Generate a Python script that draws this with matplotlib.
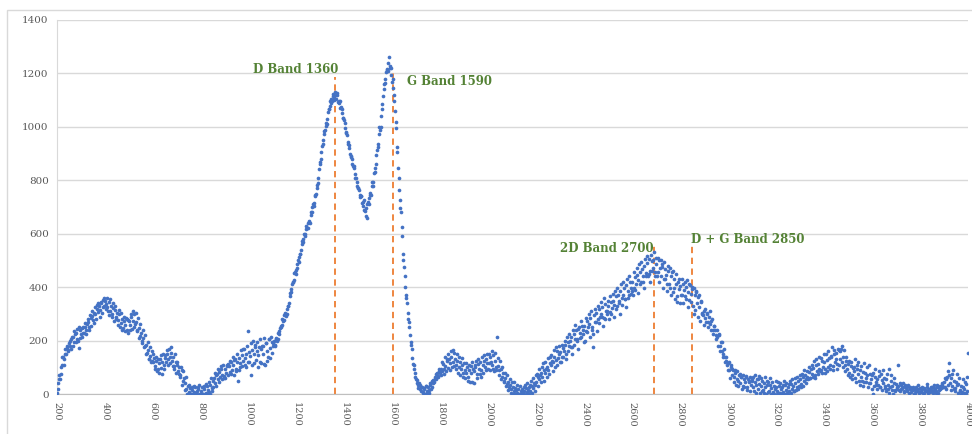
import numpy as np
import matplotlib
matplotlib.use("Agg")
import matplotlib.pyplot as plt
from matplotlib.patches import Rectangle

# Raman intensity: one value every 5 cm-1 from 200 to 4000 ...
shift_start = 200
shift_step = 5
intensity_rows = [
    [5, 42, 58, 100, 110, 138, 130, 148, 172, 160, 192, 178, 206, 212, 196, 224, 230, 205, 172, 238],  # 200
    [224, 246, 228, 252, 240, 262, 268, 250, 285, 292, 276, 305, 298, 320, 308, 330, 316, 340, 352, 330],  # 300
    [350, 338, 325, 345, 312, 330, 300, 322, 316, 290, 304, 278, 298, 265, 282, 248, 275, 260, 240, 278],  # 400
    [275, 258, 290, 272, 298, 262, 270, 238, 248, 218, 228, 200, 210, 178, 182, 152, 165, 130, 142, 122],  # 500
    [120, 135, 105, 122, 92, 115, 130, 98, 120, 108, 135, 118, 150, 132, 140, 155, 125, 138, 105, 120],  # 600
    [108, 85, 100, 70, 90, 48, 60, 42, 20, 30, 8, 22, 0, 15, 6, 25, 2, 10, 18, 0],  # 700
    [12, 28, 0, 20, 5, 30, 15, 8, 35, 22, 48, 60, 40, 72, 55, 82, 65, 95, 72, 68],  # 800
    [95, 78, 105, 112, 82, 120, 90, 110, 128, 95, 118, 48, 135, 115, 145, 125, 170, 135, 150, 235],  # 900
    [158, 142, 72, 165, 150, 175, 128, 160, 145, 118, 170, 180, 150, 112, 190, 160, 140, 205, 172, 195],  # 1000
    [178, 198, 180, 208, 205, 235, 248, 250, 282, 276, 305, 292, 318, 330, 368, 380, 410, 418, 452, 450],  # 1100
    [470, 500, 512, 525, 562, 570, 600, 598, 628, 622, 648, 640, 682, 700, 705, 742, 748, 782, 810, 862],  # 1200
    [878, 928, 950, 985, 1002, 1012, 1055, 1068, 1098, 1090, 1115, 1100, 1132, 1105, 1120, 1088, 1095, 1075, 1050, 1035],  # 1300
    [1015, 978, 968, 935, 922, 888, 880, 852, 845, 808, 795, 770, 765, 738, 742, 705, 728, 685, 668, 712],  # 1400
    [710, 752, 745, 795, 780, 832, 860, 915, 935, 998, 1000, 1068, 1115, 1160, 1178, 1215, 1210, 1262, 1222, 1195],  # 1500
    [1180, 1120, 1060, 1020, 905, 810, 725, 680, 590, 500, 440, 372, 340, 280, 252, 195, 170, 112, 95, 62],  # 1600
    [52, 35, 40, 18, 28, 8, 22, 0, 30, 12, 5, 35, 20, 48, 40, 65, 55, 80, 68, 92],  # 1700
    [95, 85, 112, 92, 105, 125, 98, 130, 115, 140, 120, 152, 130, 110, 125, 100, 118, 92, 108, 80],  # 1800
    [90, 78, 100, 65, 88, 80, 45, 95, 85, 102, 75, 112, 95, 120, 88, 110, 125, 102, 132, 115],  # 1900
    [115, 138, 120, 108, 145, 125, 100, 212, 105, 88, 95, 65, 78, 50, 60, 38, 45, 25, 35, 18],  # 2000
    [28, 10, 22, 15, 5, 20, 0, 12, 18, 3, 10, 22, 8, 15, 25, 12, 30, 22, 40, 35],  # 2100
    [45, 62, 55, 70, 80, 65, 90, 78, 95, 100, 88, 115, 108, 125, 118, 140, 128, 160, 135, 150],  # 2200
    [158, 140, 172, 160, 185, 150, 195, 178, 200, 215, 175, 225, 205, 238, 198, 245, 230, 212, 255, 240],  # 2300
    [255, 235, 272, 250, 262, 285, 240, 175, 295, 270, 305, 282, 318, 290, 300, 325, 285, 338, 310, 300],  # 2400
    [330, 308, 345, 322, 350, 335, 365, 330, 372, 348, 385, 360, 370, 395, 355, 408, 385, 372, 420, 395],  # 2500
    [420, 395, 438, 410, 445, 425, 455, 420, 468, 440, 478, 452, 490, 440, 505, 462, 498, 470, 530, 455],  # 2600
    [488, 455, 500, 472, 440, 485, 430, 468, 445, 410, 462, 398, 440, 455, 380, 432, 410, 365, 420, 392],  # 2700
    [405, 372, 412, 388, 365, 400, 380, 352, 408, 375, 392, 300, 370, 385, 340, 362, 325, 348, 305, 295],  # 2800
    [312, 285, 305, 268, 290, 262, 275, 240, 255, 238, 222, 212, 225, 178, 195, 160, 150, 138, 125, 108],  # 2900
    [115, 90, 102, 70, 88, 62, 80, 55, 48, 72, 40, 65, 30, 58, 45, 68, 25, 50, 62, 32],  # 3000
    [50, 28, 45, 35, 58, 20, 38, 30, 48, 15, 40, 25, 32, 45, 12, 35, 22, 8, 30, 18],  # 3100
    [25, 10, 30, 5, 18, 28, 8, 35, 15, 3, 25, 12, 38, 20, 30, 10, 42, 25, 48, 30],  # 3200
    [55, 38, 62, 48, 72, 55, 65, 82, 60, 92, 75, 98, 70, 108, 85, 112, 95, 88, 122, 100],  # 3300
    [118, 95, 128, 100, 135, 110, 142, 105, 150, 120, 155, 112, 165, 130, 170, 178, 140, 110, 125, 95],  # 3400
    [112, 80, 105, 70, 98, 85, 60, 92, 75, 50, 88, 65, 82, 45, 78, 60, 70, 40, 75, 55],  # 3500
    [70, 0, 65, 45, 58, 35, 68, 28, 52, 40, 60, 22, 55, 35, 95, 25, 48, 30, 40, 15],  # 3600
    [38, 18, 110, 12, 32, 22, 42, 8, 30, 15, 35, 5, 28, 18, 25, 0, 20, 12, 32, 8],  # 3700
    [22, 8, 25, 3, 15, 12, 38, 5, 20, 14, 28, 2, 22, 10, 32, 5, 26, 18, 40, 25],  # 3800
    [45, 28, 55, 35, 116, 42, 60, 30, 50, 22, 45, 35, 38, 15, 30, 8, 25, 18, 38, 12],  # 3900
    [155],  # 4000
]

# ... and the in-between readings, every 5 cm-1 from 202.5
mid_start = 202.5
intensity_mid_rows = [
    [20, 70, 55, 75, 140, 110, 170, 150, 180, 165, 200, 170, 215, 180, 235, 195, 245, 200, 250, 210],  # 200
    [215, 250, 230, 265, 225, 280, 240, 295, 255, 310, 265, 325, 280, 335, 340, 290, 345, 305, 325, 360],  # 300
    [320, 360, 310, 295, 355, 290, 340, 275, 330, 280, 260, 315, 250, 305, 240, 290, 235, 285, 280, 230],  # 400
    [240, 300, 245, 310, 250, 305, 235, 285, 210, 262, 190, 240, 175, 220, 150, 195, 130, 175, 120, 160],  # 500
    [150, 95, 140, 85, 130, 80, 145, 75, 150, 95, 145, 165, 110, 170, 115, 175, 105, 95, 150, 80],  # 600
    [120, 75, 65, 100, 35, 85, 15, 65, 0, 0, 35, 0, 25, 0, 30, 0, 0, 25, 35, 0],  # 700
    [0, 0, 30, 0, 38, 0, 45, 0, 60, 10, 25, 80, 30, 75, 95, 45, 105, 55, 110, 60],  # 800
    [60, 110, 70, 105, 125, 75, 140, 70, 130, 85, 150, 90, 100, 165, 105, 170, 110, 100, 180, 120],  # 900
    [120, 190, 110, 200, 115, 185, 195, 100, 175, 205, 115, 180, 210, 110, 190, 125, 205, 135, 215, 155],  # 1000
    [190, 182, 205, 200, 228, 225, 255, 258, 272, 295, 300, 298, 328, 342, 378, 392, 420, 428, 455, 465],  # 1100
    [488, 495, 525, 538, 572, 580, 592, 618, 620, 640, 642, 670, 680, 710, 715, 745, 770, 790, 842, 870],  # 1200
    [905, 935, 972, 988, 1015, 1028, 1065, 1078, 1105, 1095, 1122, 1108, 1118, 1125, 1092, 1098, 1070, 1068, 1035, 1025],  # 1300
    [995, 980, 945, 932, 898, 890, 862, 855, 822, 810, 778, 772, 745, 742, 715, 720, 690, 695, 660, 720],  # 1400
    [735, 745, 780, 795, 828, 845, 895, 925, 972, 990, 1040, 1085, 1142, 1165, 1205, 1212, 1238, 1228, 1220, 1168],  # 1500
    [1145, 1095, 995, 925, 845, 765, 695, 625, 525, 475, 400, 360, 305, 270, 220, 185, 135, 108, 78, 55],  # 1600
    [40, 22, 35, 10, 25, 2, 18, 30, 5, 25, 15, 40, 28, 52, 45, 58, 75, 62, 85, 78],  # 1700
    [70, 120, 75, 140, 85, 130, 150, 90, 160, 100, 165, 105, 95, 150, 80, 140, 70, 135, 65, 115],  # 1800
    [60, 115, 50, 110, 45, 105, 120, 40, 110, 125, 60, 130, 75, 65, 140, 80, 145, 90, 150, 95],  # 1900
    [150, 90, 160, 95, 85, 155, 90, 135, 70, 125, 55, 100, 45, 80, 30, 70, 15, 55, 5, 45],  # 2000
    [0, 45, 0, 35, 0, 0, 30, 0, 0, 28, 35, 0, 40, 0, 35, 50, 5, 60, 10, 70],  # 2100
    [75, 30, 95, 45, 100, 115, 50, 120, 65, 135, 75, 140, 145, 85, 165, 100, 175, 110, 180, 120],  # 2200
    [120, 185, 140, 200, 130, 215, 160, 225, 175, 150, 240, 185, 260, 205, 170, 250, 210, 275, 225, 195],  # 2300
    [200, 285, 232, 300, 215, 310, 250, 225, 320, 270, 235, 330, 265, 345, 290, 255, 360, 280, 310, 350],  # 2400
    [280, 365, 300, 375, 290, 385, 320, 395, 340, 300, 410, 335, 420, 355, 325, 430, 360, 440, 375, 385],  # 2500
    [370, 455, 390, 470, 378, 485, 410, 495, 420, 395, 505, 440, 515, 450, 420, 520, 460, 500, 440, 510],  # 2600
    [440, 510, 420, 500, 475, 395, 495, 430, 385, 480, 410, 470, 370, 460, 395, 355, 450, 345, 430, 340],  # 2700
    [370, 430, 340, 420, 355, 425, 325, 410, 345, 400, 330, 395, 315, 380, 290, 370, 275, 345, 300, 260],  # 2800
    [320, 270, 300, 250, 310, 240, 280, 225, 255, 205, 240, 180, 220, 160, 195, 140, 170, 120, 140, 90],  # 2900
    [120, 60, 110, 95, 45, 90, 35, 85, 30, 75, 62, 18, 70, 25, 65, 15, 58, 45, 10, 55],  # 3000
    [65, 10, 70, 5, 55, 68, 5, 60, 10, 2, 65, 0, 50, 8, 60, 0, 45, 5, 0, 48],  # 3100
    [0, 45, 2, 40, 0, 35, 48, 0, 42, 0, 38, 50, 5, 55, 10, 60, 15, 65, 20, 70],  # 3200
    [25, 75, 30, 90, 40, 85, 55, 100, 60, 110, 65, 125, 60, 130, 75, 140, 85, 135, 80, 150],  # 3300
    [80, 150, 85, 160, 95, 140, 175, 90, 165, 130, 95, 170, 110, 160, 120, 100, 165, 85, 140, 70],  # 3400
    [125, 65, 120, 55, 100, 130, 45, 110, 120, 35, 105, 50, 30, 115, 45, 100, 25, 110, 40, 20],  # 3500
    [80, 30, 95, 35, 20, 85, 25, 75, 15, 90, 30, 10, 75, 20, 5, 70, 15, 0, 60, 10],  # 3600
    [25, 30, 15, 40, 20, 28, 10, 35, 22, 12, 25, 18, 8, 22, 15, 5, 28, 10, 18, 3],  # 3700
    [12, 18, 2, 22, 10, 28, 15, 20, 8, 25, 12, 35, 18, 5, 25, 15, 30, 22, 35, 28],  # 3800
    [60, 20, 65, 85, 70, 15, 75, 90, 20, 10, 75, 5, 60, 10, 0, 55, 2, 45, 5, 65],  # 3900
]

intensity = np.array([v for row in intensity_rows for v in row], dtype=float)
raman_shift = shift_start + shift_step * np.arange(len(intensity))
intensity_mid = np.array([v for row in intensity_mid_rows for v in row], dtype=float)
raman_shift_mid = mid_start + shift_step * np.arange(len(intensity_mid))

# marked bands: label, line position, line top, label position, alignment
band_names = ["D Band 1360", "G Band 1590", "2D Band 2700", "D + G Band 2850"]
band_lines = [1358, 1600, 2692, 2849]
band_tops = [1185, 1215, 560, 562]
label_x = [1372, 1662, 2688, 2846]
label_y = [1213, 1168, 546, 580]
label_ha = ["right", "left", "right", "left"]

x_ticks = list(range(200, 4001, 200))
y_ticks = list(range(0, 1401, 200))

fig = plt.figure(figsize=(9.72, 4.34), dpi=100)
fig.patches.append(Rectangle((7 / 972, -0.05), 1.05, 1 - 10 / 434 + 0.05,
                             transform=fig.transFigure, fill=False,
                             edgecolor="#d9d9d9", linewidth=1))
ax = fig.add_axes([57 / 972, 1 - 394 / 434, (968 - 57) / 972, (394 - 20) / 434])

xs = np.concatenate([raman_shift, raman_shift_mid])
ys = np.concatenate([intensity, intensity_mid])
ax.scatter(xs, ys, s=7, color="#4472C4", linewidths=0, zorder=3)

for xl, top in zip(band_lines, band_tops):
    ax.plot([xl, xl], [0, top], color="#ED7D31", linewidth=1.3,
            dashes=(3.5, 2.5), zorder=2)
for name, xt, yt, ha in zip(band_names, label_x, label_y, label_ha):
    ax.text(xt, yt, name, ha=ha, va="center", color="#548235",
            fontsize=8.5, fontweight="bold", family="DejaVu Serif", zorder=4)

ax.set_xlim(200, 4000)
ax.set_ylim(0, 1400)
ax.set_xticks(x_ticks)
ax.set_yticks(y_ticks)
ax.set_xticklabels([str(t) for t in x_ticks], rotation=270, family="DejaVu Serif",
                   fontsize=7, color="#595959")
ax.set_yticklabels([str(t) for t in y_ticks], family="DejaVu Serif",
                   fontsize=7.5, color="#595959")
ax.tick_params(axis="both", length=0, pad=6)
ax.grid(axis="y", color="#d9d9d9", linewidth=1)
ax.set_axisbelow(True)
for side in ["top", "right"]:
    ax.spines[side].set_visible(False)
ax.spines["left"].set_color("#d9d9d9")
ax.spines["bottom"].set_color("#bfbfbf")

fig.savefig("out.png", dpi=100)
